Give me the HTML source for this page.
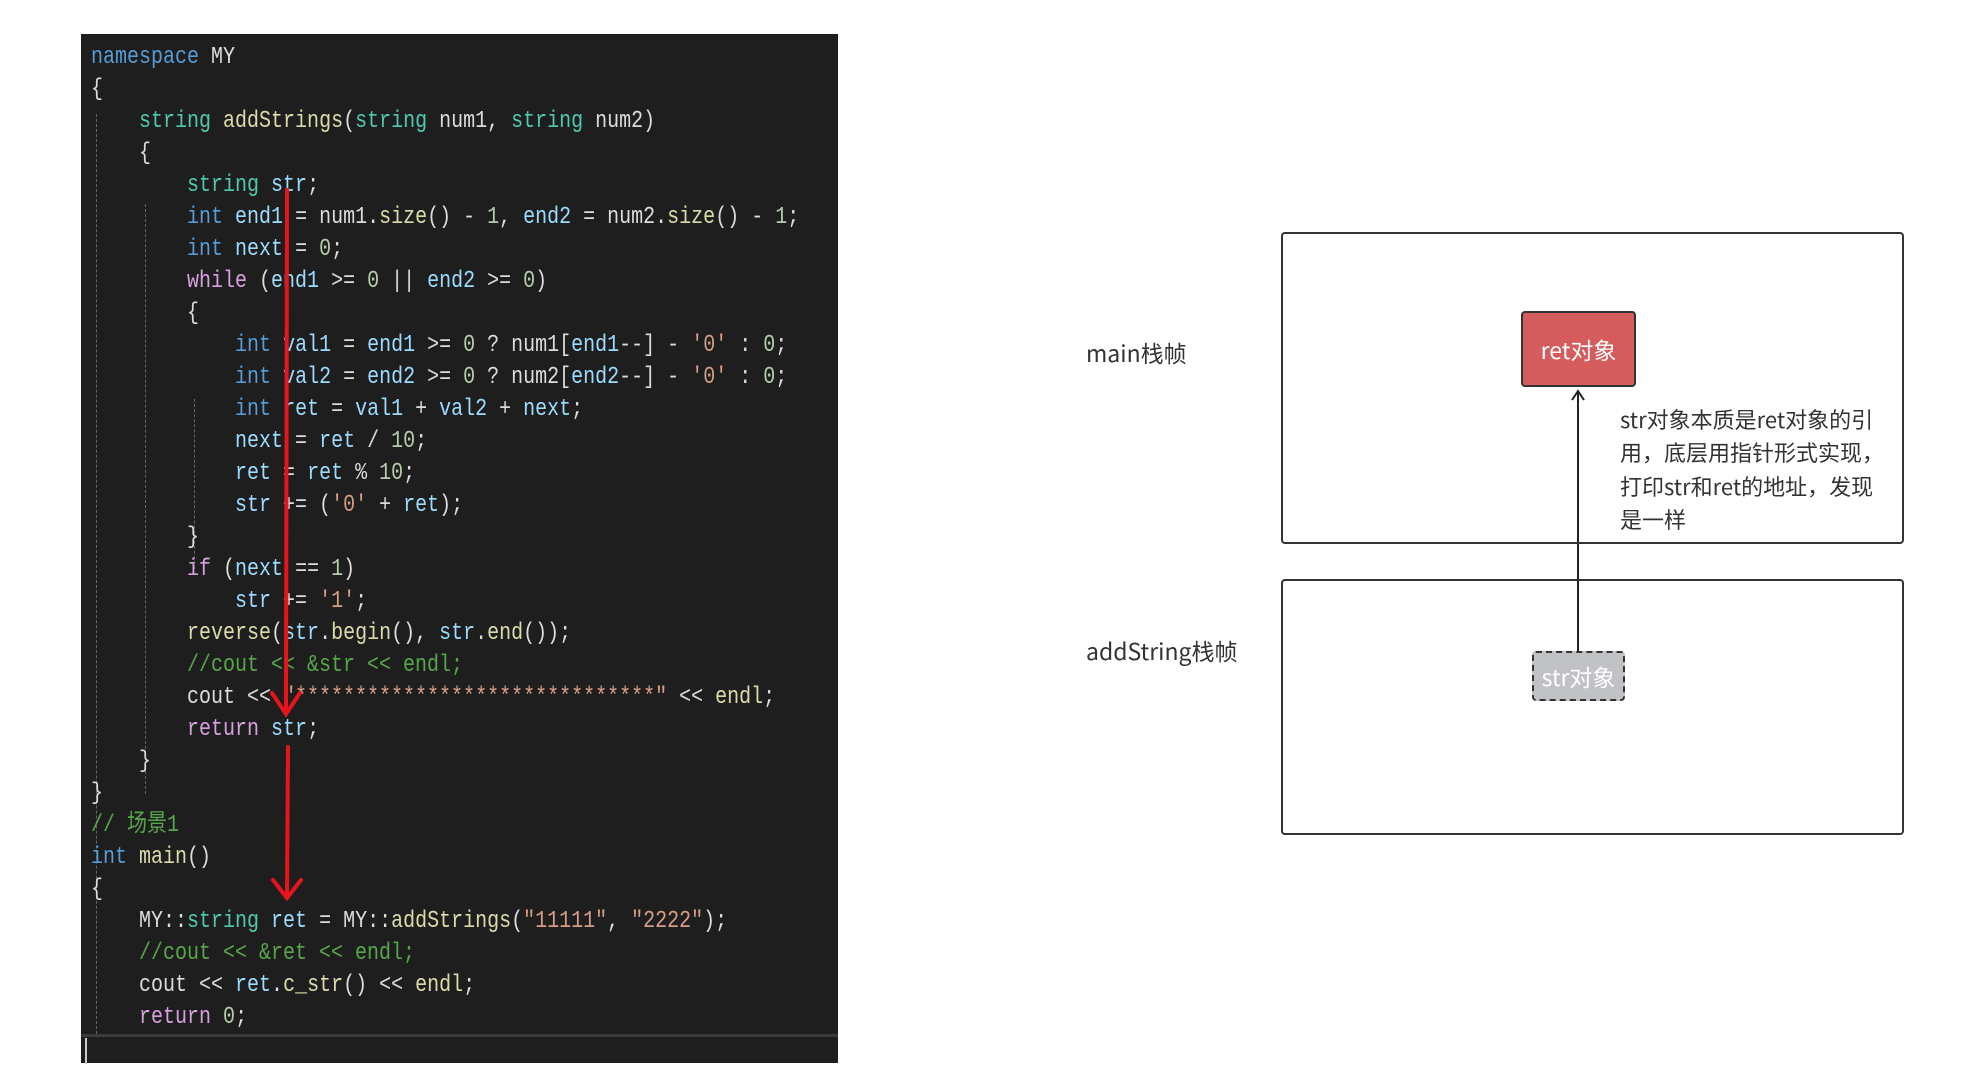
<!DOCTYPE html>
<html><head><meta charset="utf-8">
<style>
html,body{margin:0;padding:0;background:#fff;width:1963px;height:1088px;overflow:hidden;position:relative}
#code{position:absolute;left:81px;top:34px;width:757px;height:1029px;background:#1e1e1e}
.l{position:absolute;left:0;height:32px;line-height:32px;white-space:pre;font-family:"Liberation Mono","Noto Sans CJK SC",monospace;font-size:20px;color:#dcdcdc;transform:scaleY(1.22);transform-origin:0 50%}
.k{color:#569cd6}.t{color:#4ec9b0}.p{color:#d8a0df}.c{color:#57a64a}.n{color:#b5cea8}.s{color:#d69d85}.f{color:#dcdcaa}.v{color:#9cdcfe}
.g{position:absolute;width:0;border-left:1px dashed #666}
.box{position:absolute;border:2px solid #333;border-radius:4px;box-sizing:border-box}
.lbl{position:absolute;font-family:"Noto Sans CJK SC","Liberation Sans",sans-serif;font-size:22px;color:#333;white-space:nowrap}
</style></head><body>
<div id="code">
<div class="g" style="left:15px;top:80px;height:920px"></div>
<div class="g" style="left:64px;top:170px;height:590px"></div>
<div class="g" style="left:113px;top:365px;height:170px"></div>
<div style="position:absolute;left:0;top:1000px;width:757px;height:3px;background:#3a3a3a"></div>
<div style="position:absolute;left:4px;top:1004px;width:2px;height:26px;background:#ccc"></div>
</div>
<div id="lines" style="position:absolute;left:91px;top:0">
<div class="l" style="top:42px"><span class="k">namespace</span> MY</div>
<div class="l" style="top:74px">{</div>
<div class="l" style="top:106px">    <span class="t">string</span> <span class="f">addStrings</span>(<span class="t">string</span> num1, <span class="t">string</span> num2)</div>
<div class="l" style="top:138px">    {</div>
<div class="l" style="top:170px">        <span class="t">string</span> <span class="v">str</span>;</div>
<div class="l" style="top:202px">        <span class="k">int</span> <span class="v">end1</span> = num1.<span class="f">size</span>() - <span class="n">1</span>, <span class="v">end2</span> = num2.<span class="f">size</span>() - <span class="n">1</span>;</div>
<div class="l" style="top:234px">        <span class="k">int</span> <span class="v">next</span> = <span class="n">0</span>;</div>
<div class="l" style="top:266px">        <span class="p">while</span> (<span class="v">end1</span> &gt;= <span class="n">0</span> || <span class="v">end2</span> &gt;= <span class="n">0</span>)</div>
<div class="l" style="top:298px">        {</div>
<div class="l" style="top:330px">            <span class="k">int</span> <span class="v">val1</span> = <span class="v">end1</span> &gt;= <span class="n">0</span> ? num1[<span class="v">end1</span>--] - <span class="s">'0'</span> : <span class="n">0</span>;</div>
<div class="l" style="top:362px">            <span class="k">int</span> <span class="v">val2</span> = <span class="v">end2</span> &gt;= <span class="n">0</span> ? num2[<span class="v">end2</span>--] - <span class="s">'0'</span> : <span class="n">0</span>;</div>
<div class="l" style="top:394px">            <span class="k">int</span> <span class="v">ret</span> = <span class="v">val1</span> + <span class="v">val2</span> + <span class="v">next</span>;</div>
<div class="l" style="top:426px">            <span class="v">next</span> = <span class="v">ret</span> / <span class="n">10</span>;</div>
<div class="l" style="top:458px">            <span class="v">ret</span> = <span class="v">ret</span> % <span class="n">10</span>;</div>
<div class="l" style="top:490px">            <span class="v">str</span> += (<span class="s">'0'</span> + <span class="v">ret</span>);</div>
<div class="l" style="top:522px">        }</div>
<div class="l" style="top:554px">        <span class="p">if</span> (<span class="v">next</span> == <span class="n">1</span>)</div>
<div class="l" style="top:586px">            <span class="v">str</span> += <span class="s">'1'</span>;</div>
<div class="l" style="top:618px">        <span class="f">reverse</span>(<span class="v">str</span>.<span class="f">begin</span>(), <span class="v">str</span>.<span class="f">end</span>());</div>
<div class="l" style="top:650px">        <span class="c">//cout &lt;&lt; &amp;str &lt;&lt; endl;</span></div>
<div class="l" style="top:682px">        cout &lt;&lt; <span class="s">"******************************"</span> &lt;&lt; <span class="f">endl</span>;</div>
<div class="l" style="top:714px">        <span class="p">return</span> <span class="v">str</span>;</div>
<div class="l" style="top:746px">    }</div>
<div class="l" style="top:778px">}</div>
<div class="l" style="top:810px"><span class="c">// 场景1</span></div>
<div class="l" style="top:842px"><span class="k">int</span> <span class="f">main</span>()</div>
<div class="l" style="top:874px">{</div>
<div class="l" style="top:906px">    MY::<span class="t">string</span> <span class="v">ret</span> = MY::<span class="f">addStrings</span>(<span class="s">"11111"</span>, <span class="s">"2222"</span>);</div>
<div class="l" style="top:938px">    <span class="c">//cout &lt;&lt; &amp;ret &lt;&lt; endl;</span></div>
<div class="l" style="top:970px">    cout &lt;&lt; <span class="v">ret</span>.<span class="f">c_str</span>() &lt;&lt; <span class="f">endl</span>;</div>
<div class="l" style="top:1002px">    <span class="p">return</span> <span class="n">0</span>;</div>
</div>
<svg style="position:absolute;left:0;top:0" width="1963" height="1088">
<g stroke="#e8141c" stroke-width="4" fill="none" stroke-linecap="round">
<line x1="287" y1="190" x2="286" y2="713"/>
<polyline points="272,693 286,714 300,693"/>
<line x1="288" y1="747" x2="287" y2="898"/>
<polyline points="273,880 287,898 301,880"/>
</g>
<line x1="1578" y1="651" x2="1578" y2="392" stroke="#222" stroke-width="2"/>
<polyline points="1572,400 1578,391 1584,400" stroke="#222" stroke-width="2" fill="none"/>
</svg>
<div class="box" style="left:1281px;top:232px;width:623px;height:312px"></div>
<div class="box" style="left:1281px;top:579px;width:623px;height:256px"></div>
<div class="box" style="left:1521px;top:311px;width:115px;height:76px;background:#d55c5c;display:flex;align-items:center;justify-content:center;color:#fff;font-family:'Noto Sans CJK SC','Liberation Sans',sans-serif;font-size:23px">ret对象</div>
<div class="box" style="left:1532px;top:651px;width:93px;height:50px;background:#c0c2c6;border:2px dashed #333;display:flex;align-items:center;justify-content:center;color:#fff;font-family:'Noto Sans CJK SC','Liberation Sans',sans-serif;font-size:23px">str对象</div>
<div class="lbl" style="left:1086px;top:335px;font-size:23px">main栈帧</div>
<div class="lbl" style="left:1086px;top:633px;font-size:23px">addString栈帧</div>
<div class="lbl" style="left:1620px;top:403px;line-height:33.4px">str对象本质是ret对象的引<br>用，底层用指针形式实现，<br>打印str和ret的地址，发现<br>是一样</div>
</body></html>
